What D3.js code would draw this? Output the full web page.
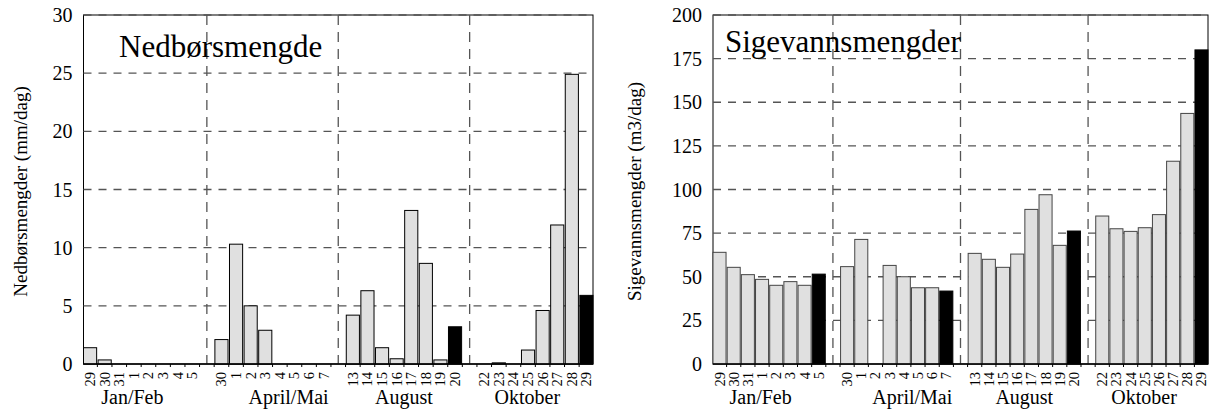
<!DOCTYPE html>
<html lang="no">
<head>
<meta charset="utf-8">
<script src="https://d3js.org/d3.v7.min.js"></script>
<style>
  body { margin: 0; background: #fff; }
  svg { display: block; font-family: "Liberation Serif", "Times New Roman", serif; }
</style>
</head>
<body>
<div id="chart"></div>
<script>
// groups and day labels (same for both charts)
var groups = ["Jan/Feb", "April/Mai", "August", "Oktober"];
var days = [
  ["29", "30", "31", "1", "2", "3", "4", "5"],
  ["30", "1", "2", "3", "4", "5", "6", "7"],
  ["13", "14", "15", "16", "17", "18", "19", "20"],
  ["22", "23", "24", "25", "26", "27", "28", "29"]
];

// precipitation, mm/dag
var nedbor = [
  [1.4, 0.35, 0, 0, 0, 0, 0, 0],
  [2.1, 10.3, 5.0, 2.9, 0, 0, 0, 0],
  [4.2, 6.3, 1.4, 0.45, 13.2, 8.65, 0.35, 3.2],
  [0, 0.1, 0, 1.2, 4.6, 11.95, 24.9, 5.9]
];

// leachate, m3/dag
var sigevann = [
  [64, 55.4, 51.2, 48.5, 45.1, 47.2, 45.1, 51.5],
  [55.8, 71.4, 0, 56.5, 50, 43.7, 43.7, 41.8],
  [63.4, 60, 55.4, 63, 88.6, 97, 68, 76.2],
  [84.8, 77.5, 76, 78.1, 85.6, 116.2, 143.6, 180]
];

var yTicksLeft = [0, 5, 10, 15, 20, 25, 30];
var yTicksRight = [0, 25, 50, 75, 100, 125, 150, 175, 200];

var width = 1216, height = 412;

var svg = d3.select("#chart").append("svg")
  .attr("width", width)
  .attr("height", height);

svg.append("rect").attr("width", width).attr("height", height).attr("fill", "#fff");

// slot keys: 8 days per group, one empty slot between groups
var slots = [];
groups.forEach(function(g, gi) {
  days[gi].forEach(function(d, i) { slots.push(gi + "-" + i); });
  if (gi < groups.length - 1) slots.push("gap" + gi);
});

// group label nudges, in slot widths (labels were not centred in the original)
var labelShift = [-0.6, 1.1, 0, -0.55];

function drawChart(o) {
  var x = d3.scaleBand()
    .domain(slots)
    .range([o.left, o.right])
    .paddingInner(o.pad)
    .paddingOuter(0);

  var y = d3.scaleLinear()
    .domain([0, d3.max(o.ticks)])
    .range([o.bottom, o.top]);

  var g = svg.append("g");

  // frame
  g.append("rect")
    .attr("x", o.left).attr("y", o.top)
    .attr("width", o.right - o.left).attr("height", o.bottom - o.top)
    .attr("fill", "none").attr("stroke", "#000").attr("stroke-width", 1);

  // horizontal grid
  g.append("g").selectAll("line")
    .data(o.ticks.slice(1))
    .join("line")
    .attr("x1", o.left).attr("x2", o.right)
    .attr("y1", d => y(d)).attr("y2", d => y(d))
    .attr("stroke", "#555").attr("stroke-width", 1.3)
    .attr("stroke-dasharray", "8,7");

  // vertical grid in the gaps between groups
  var half = x.bandwidth() / 2;
  g.append("g").selectAll("line")
    .data(slots.filter(s => s.startsWith("gap")))
    .join("line")
    .attr("x1", d => x(d) + half).attr("x2", d => x(d) + half)
    .attr("y1", o.top).attr("y2", o.bottom)
    .attr("stroke", "#555").attr("stroke-width", 1.3)
    .attr("stroke-dasharray", "10,7");

  // y tick labels
  g.append("g").selectAll("text")
    .data(o.ticks)
    .join("text")
    .attr("x", o.left - 11)
    .attr("y", d => y(d))
    .attr("dy", "0.35em")
    .attr("text-anchor", "end")
    .attr("font-size", 20)
    .text(d => d);

  // title inside plot
  g.append("text")
    .attr("x", o.titleX).attr("y", o.titleY)
    .attr("font-size", 31)
    .text(o.title);

  // y axis title
  g.append("text")
    .attr("transform", "translate(" + o.yLabelX + "," + ((o.top + o.bottom) / 2 + 2) + ") rotate(-90)")
    .attr("text-anchor", "middle")
    .attr("font-size", 19)
    .text(o.yLabel);

  // bars
  var bars = [];
  o.values.forEach(function(vals, gi) {
    vals.forEach(function(v, i) {
      bars.push({ key: gi + "-" + i, value: v, last: i === vals.length - 1 });
    });
  });

  g.append("g").selectAll("rect")
    .data(bars)
    .join("rect")
    .attr("x", d => x(d.key))
    .attr("width", x.bandwidth())
    .attr("y", d => y(d.value))
    .attr("height", d => y(0) - y(d.value))
    .attr("fill", d => d.last ? "#000" : "#e0e0e0")
    .attr("stroke", d => d.last ? "#000" : o.barStroke)
    .attr("stroke-width", 1);

  // baseline with small ticks between slots
  g.append("line")
    .attr("x1", o.left).attr("x2", o.right)
    .attr("y1", o.bottom).attr("y2", o.bottom)
    .attr("stroke", "#000").attr("stroke-width", 1.5);

  g.append("g").selectAll("line")
    .data(slots.slice(1))
    .join("line")
    .attr("x1", d => x(d) - x.step() * x.paddingInner() / 2)
    .attr("x2", d => x(d) - x.step() * x.paddingInner() / 2)
    .attr("y1", o.bottom).attr("y2", o.bottom + 3)
    .attr("stroke", "#000").attr("stroke-width", 1);

  // day labels, rotated
  var dayLabels = [];
  days.forEach(function(ds, gi) {
    ds.forEach(function(d, i) { dayLabels.push({ key: gi + "-" + i, text: d }); });
  });

  g.append("g").selectAll("text")
    .data(dayLabels)
    .join("text")
    .attr("transform", d => "translate(" + (x(d.key) + half + 5) + "," + (o.bottom + 8) + ") rotate(-90)")
    .attr("text-anchor", "end")
    .attr("font-size", 14.5)
    .text(d => d.text);

  // group labels
  g.append("g").selectAll("text")
    .data(groups)
    .join("text")
    .attr("x", function(d, gi) {
      var a = x(gi + "-0"), b = x(gi + "-7") + x.bandwidth();
      return (a + b) / 2 + labelShift[gi] * x.step();
    })
    .attr("y", 404)
    .attr("text-anchor", "middle")
    .attr("font-size", 20)
    .text(d => d);
}

drawChart({
  left: 83.5, right: 593, top: 15, bottom: 364, pad: 0.1,
  ticks: yTicksLeft, values: nedbor, barStroke: "#000",
  title: "Nedbørsmengde", titleX: 119, titleY: 57,
  yLabel: "Nedbørsmengder (mm/dag)", yLabelX: 27
});

drawChart({
  left: 713, right: 1208, top: 15, bottom: 364, pad: 0.08,
  ticks: yTicksRight, values: sigevann, barStroke: "#444",
  title: "Sigevannsmengder", titleX: 725, titleY: 52,
  yLabel: "Sigevannsmengder (m3/dag)", yLabelX: 641
});
</script>
</body>
</html>
